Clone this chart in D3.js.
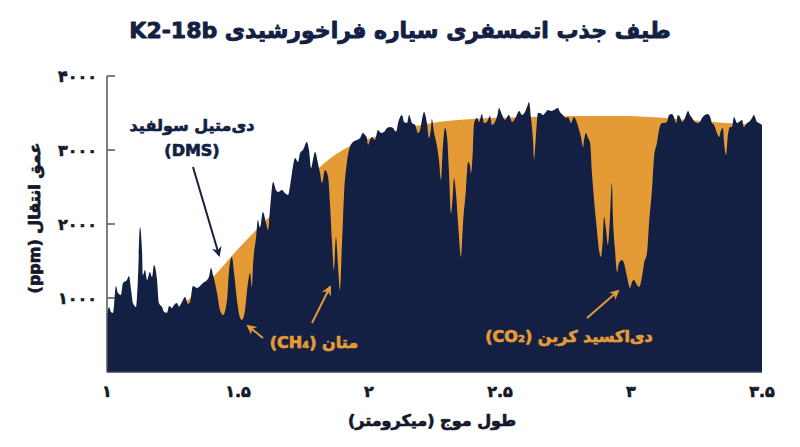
<!DOCTYPE html>
<html><head><meta charset="utf-8">
<script src="https://cdn.jsdelivr.net/npm/d3@7"></script>
<style>
html,body{margin:0;padding:0;background:#fff;}
svg{display:block;font-family:"DejaVu Sans","Noto Sans",sans-serif;}
svg text{paint-order:stroke;stroke-linejoin:round;}
</style></head>
<body><svg id="chart" width="800" height="447"></svg>
<script>
const titleText = "طیف جذب اتمسفری سیاره فراخورشیدی K2-18b";
const yTitle = "عمق انتقال (ppm)";
const xTitle = "طول موج (میکرومتر)";
const xTicks = [1, 1.5, 2, 2.5, 3, 3.5];
const yTicks = [1000, 2000, 3000, 4000];

const specWl = [1.000,1.008,1.015,1.023,1.034,1.042,1.053,1.061,1.076,1.084,1.092,1.099,1.111,1.118,1.126,1.134,1.137,1.145,1.153,1.164,1.172,1.179,1.191,1.198,1.210,1.218,1.229,1.237,1.248,1.256,1.267,1.275,1.286,1.298,1.309,1.317,1.328,1.344,1.355,1.366,1.382,1.389,1.397,1.405,1.420,1.431,1.443,1.458,1.466,1.477,1.485,1.496,1.508,1.515,1.527,1.538,1.546,1.553,1.557,1.569,1.576,1.584,1.595,1.607,1.615,1.622,1.634,1.645,1.653,1.668,1.679,1.691,1.698,1.706,1.718,1.729,1.737,1.748,1.763,1.771,1.779,1.786,1.794,1.805,1.813,1.821,1.832,1.844,1.851,1.859,1.866,1.874,1.882,1.889,1.897,1.905,1.916,1.927,1.939,1.954,1.966,1.977,1.985,1.992,1.996,2.004,2.011,2.023,2.034,2.046,2.057,2.069,2.080,2.092,2.103,2.111,2.126,2.134,2.145,2.153,2.164,2.176,2.187,2.195,2.202,2.210,2.221,2.229,2.237,2.240,2.248,2.260,2.267,2.275,2.282,2.290,2.298,2.305,2.313,2.321,2.324,2.332,2.340,2.351,2.359,2.370,2.378,2.385,2.389,2.397,2.401,2.412,2.420,2.431,2.439,2.450,2.462,2.469,2.481,2.492,2.496,2.508,2.519,2.534,2.546,2.561,2.573,2.584,2.595,2.603,2.611,2.618,2.626,2.630,2.637,2.645,2.653,2.664,2.672,2.683,2.695,2.706,2.721,2.729,2.740,2.752,2.760,2.771,2.782,2.794,2.802,2.809,2.817,2.821,2.828,2.836,2.844,2.851,2.859,2.870,2.878,2.885,2.893,2.897,2.905,2.912,2.920,2.927,2.931,2.939,2.947,2.954,2.966,2.973,2.985,2.996,3.004,3.011,3.023,3.031,3.042,3.050,3.061,3.069,3.080,3.088,3.099,3.107,3.118,3.126,3.137,3.145,3.156,3.164,3.172,3.179,3.187,3.195,3.206,3.218,3.225,3.233,3.244,3.256,3.263,3.271,3.282,3.294,3.302,3.309,3.317,3.328,3.336,3.344,3.351,3.355,3.363,3.370,3.378,3.385,3.393,3.405,3.412,3.424,3.431,3.443,3.450,3.462,3.469,3.481,3.489,3.500];
const specPpm = [770,878,811,797,1162,1067,1040,1202,1243,1297,1108,932,878,1243,1959,1608,1310,1378,1243,1351,1283,1446,1243,932,878,811,797,892,865,905,932,878,946,1013,919,946,1162,1135,1162,1202,1243,1283,1405,1310,1067,838,770,973,1378,1554,1337,973,730,703,838,1202,1337,1148,1419,1824,2054,1945,2162,2013,1918,2189,2567,2459,2432,2459,2418,2391,2499,2688,2891,2837,2959,2999,3107,2999,2756,2864,2972,2824,2688,2553,2729,2634,2283,1743,1378,1824,1419,1108,1743,2418,2837,3040,3107,3134,3161,3229,3202,3161,3067,3134,3175,3134,3269,3229,3242,3296,3310,3296,3242,3364,3472,3378,3364,3472,3364,3337,3229,3269,3405,3513,3364,3161,3310,3418,3242,3040,2864,2594,3040,3296,3175,2729,2148,2459,2621,2418,2013,1554,2013,2459,2837,2797,2688,3040,3364,3432,3378,3486,3364,3378,3459,3337,3378,3499,3567,3472,3405,3472,3378,3445,3526,3472,3513,3580,3648,3445,3134,2864,3175,3499,3499,3472,3499,3540,3526,3540,3567,3513,3472,3432,3445,3364,3445,3364,3269,3175,3040,3134,3229,3161,3094,2688,2324,1918,1648,1554,1824,2094,1918,1716,2094,2553,2094,1648,1351,1473,1513,1473,1283,1135,1216,1243,1175,1148,1283,1473,1608,2013,2459,2905,3094,3269,3364,3364,3378,3472,3486,3445,3364,3472,3445,3378,3432,3526,3472,3432,3378,3364,3378,3432,3472,3486,3445,3364,3337,3229,3175,3269,3296,3107,2932,3202,3310,3310,3445,3364,3378,3405,3310,3364,3378,3432,3472,3378,3364,3337];

const modelWl = [1.0,1.088,1.221,1.309,1.412,1.5,1.615,1.737,1.821,1.935,2.031,2.24,2.393,2.615,2.805,2.977,3.13,3.359,3.5];
const modelPpm = [450,570,797,973,1310,1662,2081,2486,2797,3067,3188,3364,3418,3445,3459,3459,3432,3364,3337];

const annotations = [
  {lines:["دی‌متیل سولفید","(DMS)"], color:"#141f44"},
  {lines:["متان (CH₄)"], color:"#e49b35"},
  {lines:["دی‌اکسید کربن (CO₂)"], color:"#e49b35"}
];

const NAVY = "#141f44", ORANGE = "#e49b35", INK = "#14182b";
const svg = d3.select("#chart");
const x = d3.scaleLinear().domain([1, 3.5]).range([107, 762]);
const y = d3.scaleLinear().domain([0, 4000]).range([372, 76]);
const fa = s => String(s).replace(/[0-9]/g, d => "۰۱۲۳۴۵۶۷۸۹"[+d]);

const spec = specWl.map((w,i)=>({w, v:specPpm[i]}));
const model = modelWl.map((w,i)=>({w, v:modelPpm[i]}));

svg.append("path").datum(model)
  .attr("fill", ORANGE)
  .attr("d", d3.area().x(d=>x(d.w)).y0(y(0)).y1(d=>y(d.v)).curve(d3.curveMonotoneX));
svg.append("path").datum(spec)
  .attr("fill", NAVY)
  .attr("d", d3.area().x(d=>x(d.w)).y0(y(0)).y1(d=>y(d.v)).curve(d3.curveMonotoneX));

// axes
svg.append("line").attr("x1",x(1)).attr("x2",x(1)).attr("y1",y(4000)).attr("y2",y(0))
  .attr("stroke","#555").attr("stroke-width",1.5);
svg.append("line").attr("x1",x(1)).attr("x2",x(3.5)).attr("y1",y(0)).attr("y2",y(0))
  .attr("stroke","#3a3f55").attr("stroke-width",1.5);
svg.selectAll(".yt").data(yTicks).enter().append("line")
  .attr("x1",x(1)).attr("x2",x(1)+8).attr("y1",d=>y(d)).attr("y2",d=>y(d))
  .attr("stroke","#555").attr("stroke-width",1.5);

const txt = (sel, size, color, sw) => sel.attr("font-size",size).attr("font-weight","bold")
  .attr("fill",color).attr("stroke",color).attr("stroke-width",sw);

txt(svg.selectAll(".yl").data(yTicks).enter().append("text")
  .attr("x",97).attr("y",d=>y(d)).attr("dy","0.35em").attr("text-anchor","end")
  .text(d=>fa(d)), 16, INK, 0.6);
txt(svg.selectAll(".xl").data(xTicks).enter().append("text")
  .attr("x",d=>x(d)).attr("y",391).attr("dy","0.35em").attr("text-anchor","middle")
  .text(d=>fa(d)), 16, INK, 0.6);

txt(svg.append("text").attr("x",400).attr("y",30).attr("dy","0.35em").attr("text-anchor","middle")
  .attr("direction","rtl").text(titleText), 22, NAVY, 0.9);
txt(svg.append("text").attr("x",432).attr("y",420).attr("dy","0.35em").attr("text-anchor","middle")
  .attr("direction","rtl").text(xTitle), 16, INK, 0.7);
txt(svg.append("text").attr("transform","translate(34,218) rotate(-90)").attr("dy","0.35em")
  .attr("text-anchor","middle").attr("direction","rtl").text(yTitle), 16, INK, 0.7);

// arrow markers
const defs = svg.append("defs");
[["an",NAVY],["ao",ORANGE]].forEach(([id,c])=>{
  defs.append("marker").attr("id",id).attr("viewBox","0 0 10 10").attr("refX",8).attr("refY",5)
    .attr("markerWidth",5).attr("markerHeight",5).attr("orient","auto-start-reverse")
    .append("path").attr("d","M0,0 L10,5 L0,10 L3,5 Z").attr("fill",c);
});
const arrow = (x1,y1,x2,y2,id,c)=>svg.append("line").attr("x1",x1).attr("y1",y1).attr("x2",x2).attr("y2",y2)
  .attr("stroke",c).attr("stroke-width",2).attr("marker-end",`url(#${id})`);

// DMS
const a0 = annotations[0];
a0.lines.forEach((t,i)=>txt(svg.append("text").attr("x",192).attr("y",125+i*25).attr("dy","0.35em")
  .attr("text-anchor","middle").attr("direction","rtl").text(t), 16, a0.color, 0.7));
arrow(193,167,219,255,"an",NAVY);
// CH4
txt(svg.append("text").attr("x",314).attr("y",342).attr("dy","0.35em").attr("text-anchor","middle")
  .attr("direction","rtl").text(annotations[1].lines[0]), 16, ORANGE, 0.7);
arrow(263,338,248,326,"ao",ORANGE);
arrow(312,323,330,287,"ao",ORANGE);
// CO2
txt(svg.append("text").attr("x",569).attr("y",336).attr("dy","0.35em").attr("text-anchor","middle")
  .attr("direction","rtl").text(annotations[2].lines[0]), 16, ORANGE, 0.7);
arrow(587,318,618,291,"ao",ORANGE);
</script></body></html>
